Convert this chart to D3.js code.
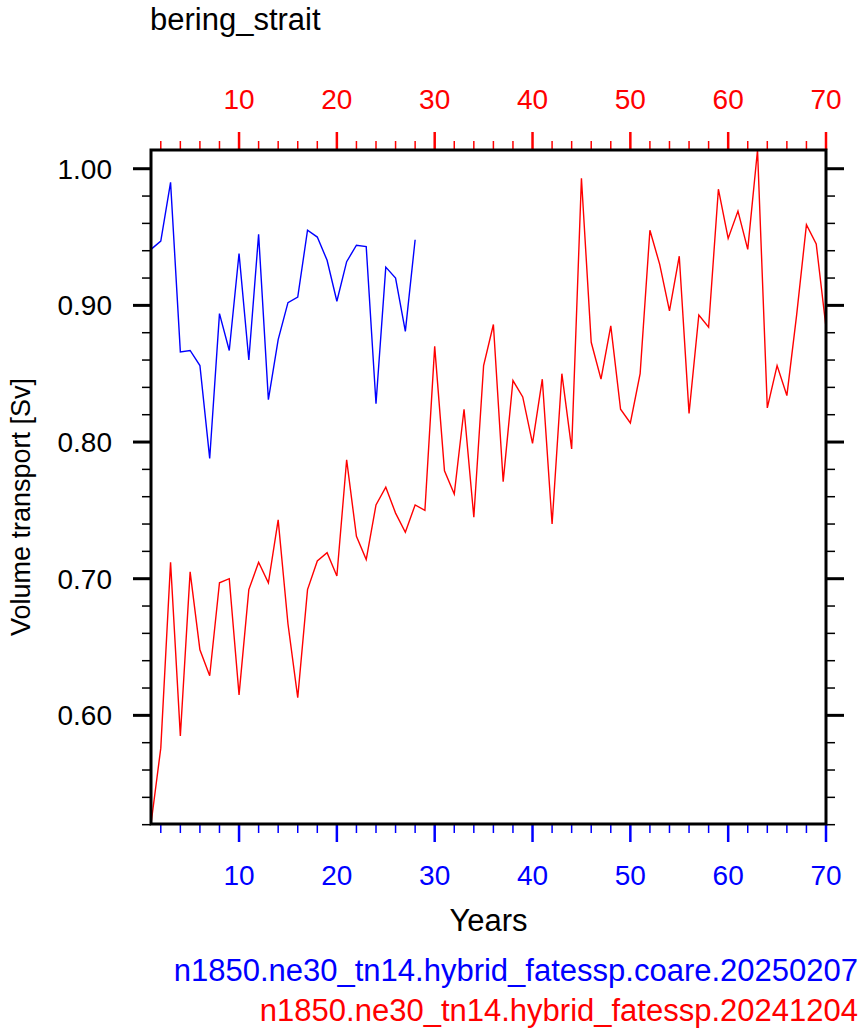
<!DOCTYPE html>
<html>
<head>
<meta charset="utf-8">
<script src="https://d3js.org/d3.v7.min.js"></script>
<style>
  body { margin: 0; background: #ffffff; }
  text { font-family: 'Liberation Sans', Arial, sans-serif; }
</style>
</head>
<body>
<div id="chart"></div>
<script>
"use strict"

// data
var chartTitle = "bering_strait",
  yTitle = "Volume transport [Sv]",
  xTitle = "Years";

var caseNames = ["n1850.ne30_tn14.hybrid_fatessp.coare.20250207",
  "n1850.ne30_tn14.hybrid_fatessp.20241204"];
var caseColors = ["#0000ff", "#ff0000"];

var blueValues = [0.941, 0.947, 0.990, 0.866, 0.867, 0.856, 0.788, 0.894, 0.867, 0.938,
  0.860, 0.952, 0.831, 0.875, 0.902, 0.906, 0.955, 0.950, 0.933, 0.903,
  0.932, 0.944, 0.943, 0.828, 0.928, 0.920, 0.881, 0.948];

var redValues = [0.5205, 0.576, 0.712, 0.585, 0.705, 0.648, 0.629, 0.697, 0.700, 0.615,
  0.692, 0.712, 0.697, 0.743, 0.667, 0.613, 0.692, 0.713, 0.719, 0.702,
  0.787, 0.731, 0.714, 0.754, 0.767, 0.748, 0.734, 0.754, 0.750, 0.870,
  0.779, 0.762, 0.824, 0.745, 0.856, 0.886, 0.771, 0.845, 0.833, 0.799,
  0.846, 0.740, 0.850, 0.795, 0.993, 0.873, 0.846, 0.885, 0.824, 0.814,
  0.850, 0.955, 0.930, 0.896, 0.936, 0.821, 0.893, 0.884, 0.985, 0.949,
  0.969, 0.941, 1.0137, 0.825, 0.856, 0.834, 0.893, 0.959, 0.945, 0.884];

var xMajorTicks = [10, 20, 30, 40, 50, 60, 70],
  yMajorTicks = [0.60, 0.70, 0.80, 0.90, 1.00];

var width = 865,
  height = 1036,
  plotLeft = 151,
  plotRight = 826,
  plotTop = 150,
  plotBottom = 824,
  majorLen = 18,
  minorLen = 9,
  labelSize = 28,
  titleSize = 31;

var svg = d3.select("#chart").append("svg")
  .attr("width", width)
  .attr("height", height);

var allValues = blueValues.concat(redValues);

var x = d3.scaleLinear()
  .domain([1, redValues.length])
  .range([plotLeft, plotRight]);

var y = d3.scaleLinear()
  .domain(d3.extent(allValues))
  .range([plotBottom, plotTop]);

var xMinorTicks = d3.range(2, 71, 2).filter(function(d){ return d % 10 != 0; }),
  yMinorTicks = d3.range(0.52, 1.0, 0.02).filter(function(d){
    return Math.abs(d * 10 - Math.round(d * 10)) > 0.01;
  });

function drawTicks(g, ticks, scale, len, orient, color, strokeW){
  g.selectAll(null)
    .data(ticks)
    .enter().append("line")
    .attr("x1", function(d){ return orient == "left" || orient == "right" ? 0 : scale(d); })
    .attr("x2", function(d){
      if(orient == "left") return -len;
      if(orient == "right") return len;
      return scale(d);
    })
    .attr("y1", function(d){ return orient == "left" || orient == "right" ? scale(d) : 0; })
    .attr("y2", function(d){
      if(orient == "top") return -len;
      if(orient == "bottom") return len;
      return scale(d);
    })
    .attr("stroke", color)
    .attr("stroke-width", strokeW);
}

// ticks on all four sides
var leftG = svg.append("g").attr("transform", "translate(" + plotLeft + ",0)"),
  rightG = svg.append("g").attr("transform", "translate(" + plotRight + ",0)"),
  topG = svg.append("g").attr("transform", "translate(0," + plotTop + ")"),
  bottomG = svg.append("g").attr("transform", "translate(0," + plotBottom + ")");

drawTicks(leftG, yMinorTicks, y, minorLen, "left", "#000000", 1.5);
drawTicks(leftG, yMajorTicks, y, majorLen, "left", "#000000", 3);
drawTicks(rightG, yMinorTicks, y, minorLen, "right", "#000000", 1.5);
drawTicks(rightG, yMajorTicks, y, majorLen, "right", "#000000", 3);
drawTicks(topG, xMinorTicks, x, minorLen, "top", caseColors[1], 1.5);
drawTicks(topG, xMajorTicks, x, majorLen, "top", caseColors[1], 2.5);
drawTicks(bottomG, xMinorTicks, x, minorLen, "bottom", caseColors[0], 1.5);
drawTicks(bottomG, xMajorTicks, x, majorLen, "bottom", caseColors[0], 2.5);

// tick labels
leftG.selectAll(null)
  .data(yMajorTicks)
  .enter().append("text")
  .attr("x", -39)
  .attr("y", function(d){ return y(d); })
  .attr("dy", "0.36em")
  .attr("text-anchor", "end")
  .style("font-size", labelSize + "px")
  .text(function(d){ return d3.format(".2f")(d); });

topG.selectAll(null)
  .data(xMajorTicks)
  .enter().append("text")
  .attr("x", function(d){ return x(d); })
  .attr("y", -51)
  .attr("dy", "0.36em")
  .attr("text-anchor", "middle")
  .attr("fill", caseColors[1])
  .style("font-size", labelSize + "px")
  .text(function(d){ return d; });

bottomG.selectAll(null)
  .data(xMajorTicks)
  .enter().append("text")
  .attr("x", function(d){ return x(d); })
  .attr("y", 51)
  .attr("dy", "0.36em")
  .attr("text-anchor", "middle")
  .attr("fill", caseColors[0])
  .style("font-size", labelSize + "px")
  .text(function(d){ return d; });

// data lines
var line = d3.line()
  .x(function(d, i){ return x(i + 1); })
  .y(function(d){ return y(d); });

svg.append("path")
  .datum(blueValues)
  .attr("d", line)
  .attr("fill", "none")
  .attr("stroke", caseColors[0])
  .attr("stroke-width", 1.4);

svg.append("path")
  .datum(redValues)
  .attr("d", line)
  .attr("fill", "none")
  .attr("stroke", caseColors[1])
  .attr("stroke-width", 1.4);

// frame
svg.append("rect")
  .attr("x", plotLeft)
  .attr("y", plotTop)
  .attr("width", plotRight - plotLeft)
  .attr("height", plotBottom - plotTop)
  .attr("fill", "none")
  .attr("stroke", "#000000")
  .attr("stroke-width", 3);

// titles
svg.append("text")
  .attr("x", 150)
  .attr("y", 30)
  .style("font-size", titleSize + "px")
  .text(chartTitle);

svg.append("text")
  .attr("x", (plotLeft + plotRight) / 2)
  .attr("y", 931)
  .attr("text-anchor", "middle")
  .style("font-size", titleSize + "px")
  .text(xTitle);

svg.append("text")
  .attr("transform", "translate(30,507) rotate(-90)")
  .attr("text-anchor", "middle")
  .style("font-size", "27px")
  .text(yTitle);

svg.selectAll(null)
  .data(caseNames)
  .enter().append("text")
  .attr("x", 858)
  .attr("y", function(d, i){ return 981 + i * 40; })
  .attr("text-anchor", "end")
  .attr("fill", function(d, i){ return caseColors[i]; })
  .style("font-size", titleSize + "px")
  .text(function(d){ return d; });
</script>
</body>
</html>
